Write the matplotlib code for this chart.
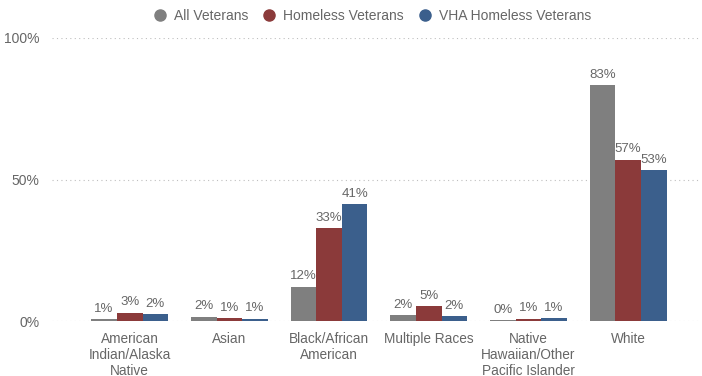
import numpy as np
import matplotlib.pyplot as plt
from matplotlib.lines import Line2D

plt.rcParams['font.family'] = ['Liberation Sans', 'DejaVu Sans']

categories = ['American\nIndian/Alaska\nNative', 'Asian', 'Black/African\nAmerican',
              'Multiple Races', 'Native\nHawaiian/Other\nPacific Islander', 'White']
series_names = ['All Veterans', 'Homeless Veterans', 'VHA Homeless Veterans']
all_vets = [0.7, 1.6, 12.2, 2.0, 0.3, 83.4]
homeless_vets = [3.0, 1.1, 32.9, 5.4, 0.9, 57.0]
vha_homeless = [2.4, 0.9, 41.3, 1.8, 1.0, 53.3]
colors = ['#7f7f7f', '#8b3a3a', '#3b5f8c']
text_color = '#666666'

fig = plt.figure(figsize=(7.02, 3.76), dpi=100)
ax = fig.add_axes([0.074, 0.146, 0.923, 0.753])

x = np.arange(len(categories))
w = 0.257
for i, (vals, c) in enumerate(zip([all_vets, homeless_vets, vha_homeless], colors)):
    pos = x + (i - 1) * w
    ax.bar(pos, vals, width=w, color=c, zorder=3)
    for p, v in zip(pos, vals):
        ax.text(p, v + 1.5, '{:.0f}%'.format(v), ha='center', va='bottom',
                fontsize=9.5, color=text_color, clip_on=False)

ax.set_xlim(-0.78, 5.72)
ax.set_ylim(0, 100)
ax.set_yticks([0, 50, 100])
ax.set_yticklabels(['0%', '50%', '100%'], fontsize=10)
ax.set_xticks(x)
ax.set_xticklabels(categories, fontsize=9.8, linespacing=1.15)
ax.tick_params(axis='both', length=0, colors=text_color)
ax.tick_params(axis='x', pad=8)
ax.tick_params(axis='y', pad=9)
for s in ax.spines.values():
    s.set_visible(False)
ax.grid(axis='y', linestyle=(0, (1, 3)), color='#bfbfbf', linewidth=0.8, zorder=0)
ax.set_axisbelow(True)

handles = [Line2D([], [], marker='o', linestyle='none', color=c, markersize=8)
           for c in colors]
fig.legend(handles, series_names, loc='center', bbox_to_anchor=(0.525, 0.958),
           ncol=3, frameon=False, handletextpad=0.0, columnspacing=0.5,
           fontsize=10, labelcolor=text_color)

plt.savefig('out.png', dpi=100)
